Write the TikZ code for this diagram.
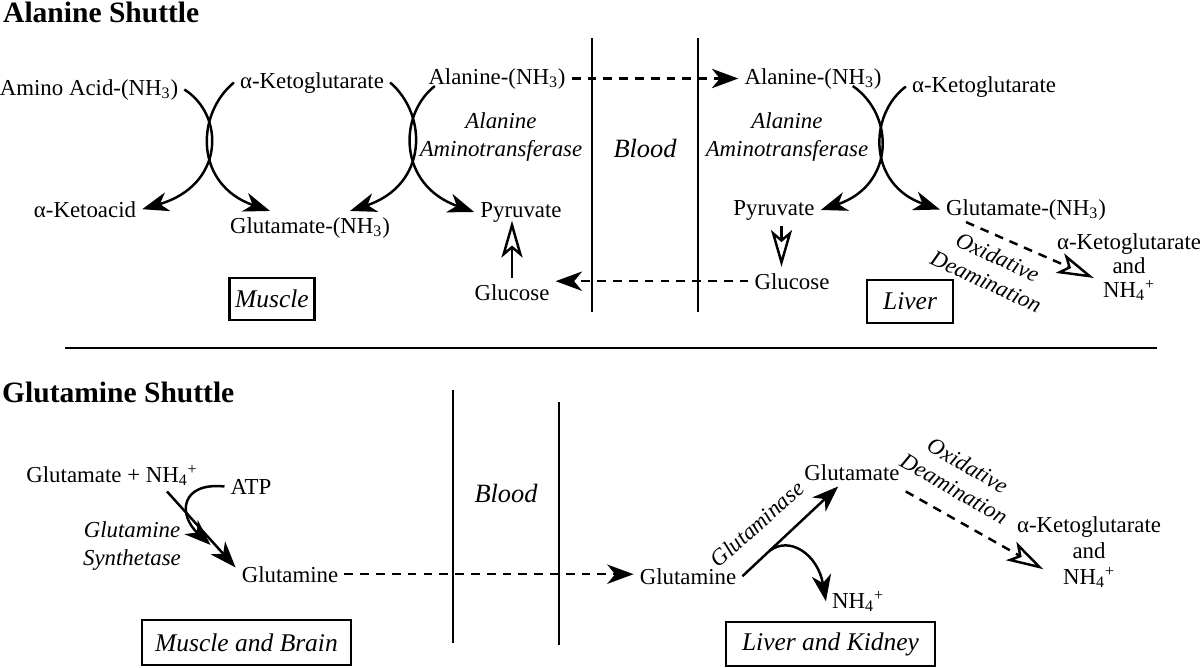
\documentclass[tikz,border=0pt]{standalone}
\usepackage{fontspec}
\setmainfont{Liberation Serif}
\usetikzlibrary{arrows.meta}

\begin{document}
\begin{tikzpicture}[
        x=0.2mm, y=-0.2mm,
        lbl/.style={font=\fontsize{13}{15.5}\selectfont, anchor=base},
        stack/.style={lbl, align=center, font=\fontsize{13}{13.5}\selectfont},
        enz/.style={lbl, align=center, font=\fontsize{13}{15.4}\selectfont\itshape},
        region/.style={font=\fontsize{15}{18}\selectfont\itshape, anchor=base},
        hdr/.style={font=\fontsize{16.8}{20}\selectfont\bfseries, anchor=base west},
        tissue/.style={draw, line width=1.3pt, font=\fontsize{14.5}{17}\selectfont\itshape, inner sep=0pt},
        wall/.style={line width=1.4pt},
        rxn/.style={line width=1.4pt, -{Stealth[length=15pt, width=11pt, inset=4.5pt]}},
        xfer/.style={rxn, dash pattern=on 5pt off 4pt},
        conv/.style={line width=1.4pt, -{Stealth[open, length=21pt, width=12pt, inset=5pt]}},
        deam/.style={conv, dash pattern=on 5pt off 4pt}
    ]
    \useasboundingbox (0,0) rectangle (1200,667);

    % alanine shuttle
    \node[hdr] (titleA) at (-3,22) {Alanine Shuttle};
    \node[lbl] (aminoL) at (89,95) {Amino Acid-(NH\textsubscript{3})};
    \node[lbl] (kgL) at (312,88) {α-Ketoglutarate};
    \node[lbl] (alaL) at (497,84) {Alanine-(NH\textsubscript{3})};
    \node[enz] (altL) at (501,156) {Alanine\\Aminotransferase};
    \node[lbl] (ketoacid) at (85,217) {α-Ketoacid};
    \node[lbl] (gluL) at (310,233) {Glutamate-(NH\textsubscript{3})};
    \node[lbl] (pyrL) at (521,217) {Pyruvate};
    \node[lbl] (glcL) at (512,300) {Glucose};
    \node[tissue, minimum width=17mm, minimum height=8.4mm] (muscle) at (272,299) {Muscle};

    \node[region] (bloodA) at (645,157) {Blood};

    \node[lbl] (alaR) at (813,84) {Alanine-(NH\textsubscript{3})};
    \node[lbl] (kgR) at (984,92) {α-Ketoglutarate};
    \node[enz] (altR) at (787,156) {Alanine\\Aminotransferase};
    \node[lbl] (pyrR) at (774,215) {Pyruvate};
    \node[lbl] (glcR) at (792,289) {Glucose};
    \node[lbl] (gluR) at (1026,215) {Glutamate-(NH\textsubscript{3})};
    \node[stack] (kgR2) at (1129,297) {α-Ketoglutarate\\and\\NH\textsubscript{4}\textsuperscript{+}};
    \node[enz, anchor=center, rotate=-25] (oxA) at (992,269) {Oxidative\\Deamination};
    \node[tissue, minimum width=17.2mm, minimum height=8.6mm] (liver) at (910,301.5) {Liver};

    \draw[wall] (592,38) -- (592,312);
    \draw[wall] (698,38) -- (698,312);
    \draw[wall] (65,348) -- (1157,348);

    \draw[rxn] (aminoL.east) .. controls (225,115) and (225,185) .. (ketoacid.east);
    \draw[rxn] (kgL.west) .. controls (195,115) and (195,185) .. ([xshift=-8mm]gluL.north);
    \draw[rxn] (kgL.east) .. controls (428,115) and (428,185) .. ([xshift=8mm]gluL.north);
    \draw[rxn] ([xshift=2.5mm,yshift=-1.5mm]alaL.west) .. controls (398,115) and (398,185) .. (pyrL.west);
    \draw[rxn] ([xshift=-7mm,yshift=-1.5mm]alaR.east) .. controls (895,115) and (895,185) .. (pyrR.east);
    \draw[rxn] (kgR.west) .. controls (868,115) and (868,185) .. (gluR.west);
    \draw[xfer] (alaL.east) -- (alaR.west);
    \draw[xfer] (glcR.west) -- (glcR.west -| glcL.east);
    \draw[conv] (glcL.north) -- ([yshift=1.5mm]glcL.north |- pyrL.south);
    \draw[conv] ([xshift=1.5mm]pyrR.south) -- ([xshift=1.5mm]pyrR.south |- glcR.north);
    \draw[deam] ([xshift=-12mm,yshift=0.8mm]gluR.south) -- ([xshift=8.6mm,yshift=-2.2mm]kgR2.west);

    % glutamine shuttle
    \node[hdr] (titleB) at (-4,402) {Glutamine Shuttle};
    \node[lbl] (gluNH) at (112,482) {Glutamate + NH\textsubscript{4}\textsuperscript{+}};
    \node[lbl] (atp) at (251,494) {ATP};
    \node[enz] (gsyn) at (132,565) {Glutamine\\Synthetase};
    \node[lbl] (glnL) at (290,582) {Glutamine};
    \node[tissue, minimum width=41.8mm, minimum height=9mm] (brain) at (246.5,642.5) {Muscle and Brain};

    \node[region] (bloodB) at (506,502) {Blood};

    \node[lbl] (glnR) at (688,584) {Glutamine};
    \node[lbl] (gluR2) at (852,480) {Glutamate};
    \node[lbl] (nh4) at (858,608) {NH\textsubscript{4}\textsuperscript{+}};
    \node[enz, anchor=center, rotate=42] (glase) at (757,524) {Glutaminase};
    \node[enz, anchor=center, rotate=-30] (oxB) at (961,477) {Oxidative\\Deamination};
    \node[stack, font=\fontsize{13}{14.8}\selectfont] (kgB) at (1089,584) {α-Ketoglutarate\\and\\NH\textsubscript{4}\textsuperscript{+}};
    \node[tissue, minimum width=41.8mm, minimum height=8.8mm] (kidney) at (830.5,644) {Liver and Kidney};

    \draw[wall] (453,390) -- (453,643);
    \draw[wall] (559,402) -- (559,645);

    \draw[rxn] ([xshift=11mm]gluNH.south) -- ([yshift=-1.5mm]glnL.north west);
    \draw[rxn] (atp.west) .. controls (180,482) and (178,515) .. ([xshift=-5mm,yshift=3mm]glnL.north west);
    \draw[xfer] (glnL.east) -- (glnL.east -| glnR.west);
    \draw[rxn] (glnR.east) -- coordinate[pos=0.28] (split) ([xshift=8mm]gluR2.south west);
    \draw[rxn] (split) .. controls (790,535) and (818,555) .. (nh4.west);
    \draw[deam] ([yshift=-1mm]gluR2.south east) -- ([xshift=6.5mm,yshift=-3.5mm]kgB.west);
\end{tikzpicture}
\end{document}
